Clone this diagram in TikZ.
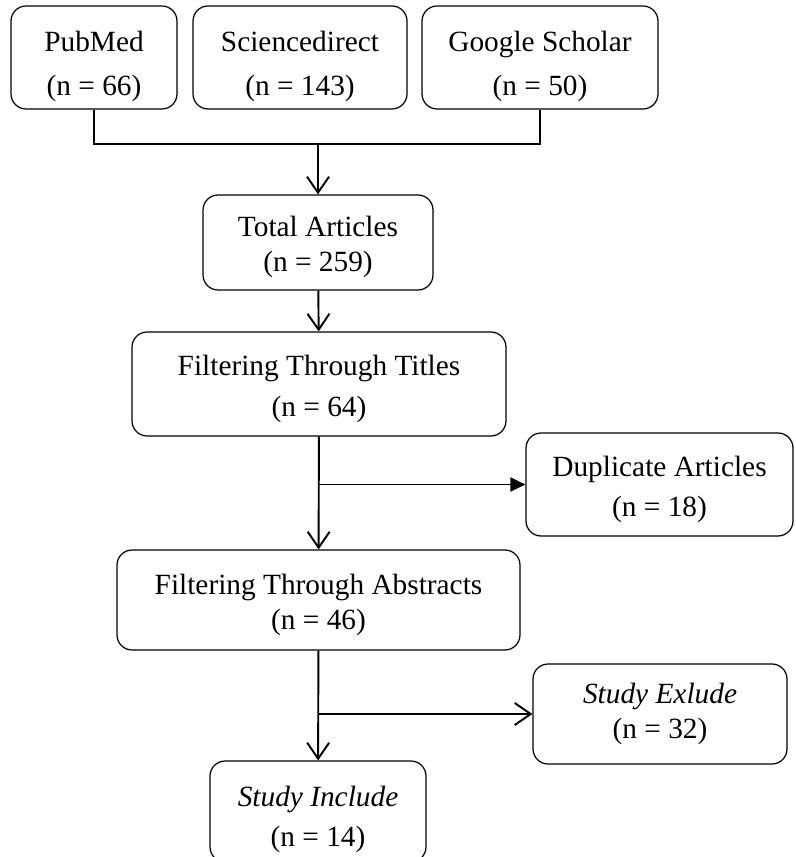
\documentclass[tikz,border=0pt]{standalone}
\usepackage{fontspec}
\setmainfont{Liberation Serif}
\usetikzlibrary{arrows.meta}

% invisible strut that pushes the text of a box down
\newcommand{\lowr}[1]{\rule{0pt}{#1}}

\tikzset{
    box/.style={draw, line width=0.7pt, rounded corners=0.3cm, align=center,
        inner sep=0pt, font=\fontsize{16.7}{20}\selectfont},
    arr/.style={-{Straight Barb[length=0.32cm, width=0.44cm]}, line width=1.1pt},
    arrfill/.style={-{Triangle[length=0.3cm, width=0.28cm]}, line width=1.1pt},
    link/.style={line width=1.1pt}
}

\begin{document}
\begin{tikzpicture}[x=0.02cm, y=-0.02cm]

    \useasboundingbox (0,0) rectangle (795,857);
    \clip (0,0) rectangle (795,857);

    % sources
    \node[box, minimum width=3.32cm, minimum height=2.06cm] (pub) at (94,57.5) {\lowr{21.6pt}PubMed\\[5pt](n = 66)};
    \node[box, minimum width=4.28cm, minimum height=2.06cm] (sci) at (300,57.5) {\lowr{21.6pt}Sciencedirect\\[5pt](n = 143)};
    \node[box, minimum width=4.72cm, minimum height=2.06cm] (gs) at (540,57.5) {\lowr{21.6pt}Google Scholar\\[5pt](n = 50)};

    % main chain
    \node[box, minimum width=4.6cm, minimum height=1.9cm] (tot) at (318,242.5) {\lowr{17pt}Total Articles\\(n = 259)};
    \node[box, minimum width=7.48cm, minimum height=2.08cm] (tit) at (319,384) {\lowr{17pt}Filtering Through Titles\\[3pt](n = 64)};
    \node[box, minimum width=8.06cm, minimum height=2.0cm] (abs) at (318.5,600) {\lowr{17pt}Filtering Through Abstracts\\(n = 46)};
    \node[box, minimum width=4.32cm, minimum height=2.02cm] (inc) at (318,811.5) {\lowr{20.4pt}\textit{Study Include}\\[3pt](n = 14)};

    % side boxes
    \node[box, minimum width=5.34cm, minimum height=2.06cm] (dup) at (659.5,484.5) {\lowr{17pt}Duplicate Articles\\[3pt](n = 18)};
    \node[box, minimum width=5.08cm, minimum height=2.0cm] (exc) at (660,714) {\textit{Study Exlude}\\(n = 32)};

    % join of the sources
    \coordinate (join) at (318,144);
    \draw[link] (pub.south) |- (join) -| (gs.south);
    \draw[arr] (join) -- (tot.north);

    \draw[arr] (tot) -- (tit);
    \draw[arr] (tit) -- (abs);
    \draw[arr] (abs) -- (inc);

    % branches
    \coordinate (br1) at (tit.south |- dup.west);
    \coordinate (br2) at (abs.south |- exc.west);
    \draw[arrfill] (br1) -- (dup.west);
    \draw[arr] (br2) -- (exc.west);

\end{tikzpicture}
\end{document}
